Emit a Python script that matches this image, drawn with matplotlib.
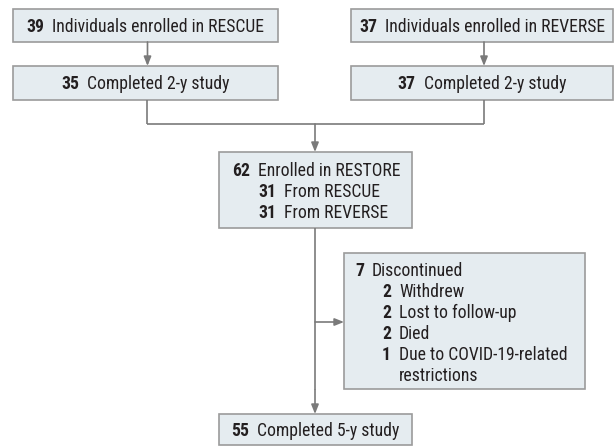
import matplotlib.pyplot as plt
from matplotlib import font_manager
from matplotlib.patches import Rectangle

# Zahlen und Texte des Flussdiagramms
top_counts = ["39", "37"]
top_labels = ["Individuals enrolled in RESCUE", "Individuals enrolled in REVERSE"]
done2_counts = ["35", "37"]
done2_labels = ["Completed 2-y study", "Completed 2-y study"]
restore_count, restore_label = "62", "Enrolled in RESTORE"
restore_sub_counts = ["31", "31"]
restore_sub_labels = ["From RESCUE", "From REVERSE"]
disc_count, disc_label = "7", "Discontinued"
disc_sub_counts = ["2", "2", "2", "1", ""]
disc_sub_labels = ["Withdrew", "Lost to follow-up", "Died",
                   "Due to COVID-19-related", "restrictions"]
final_count, final_label = "55", "Completed 5-y study"

# schmale Schrift suchen
have = {f.name for f in font_manager.fontManager.ttflist}
wanted = ["Roboto Condensed", "Fira Sans Condensed", "PT Sans Narrow",
          "Archivo Narrow", "Open Sans Condensed", "Asap Condensed",
          "Encode Sans Condensed", "Liberation Sans Narrow"]
FONT = [f for f in wanted if f in have][:1] + ["DejaVu Sans"]

FILL = "#e5ecf0"
EDGE = "#9b9b9b"
LINE = "#7a7a7a"
TXT = "#231f20"

fig = plt.figure(figsize=(6.14, 4.46), dpi=100)
ax = fig.add_axes([0, 0, 1, 1])
ax.set_xlim(0, 614)
ax.set_ylim(446, 0)
ax.axis("off")
renderer = fig.canvas.get_renderer()

# Schriftgröße an die Breite im Original anpassen
probe = ax.text(0, 0, top_labels[0], fontsize=10, family=FONT)
FS = 10 * 211 / probe.get_window_extent(renderer).width
probe.remove()


def box(x0, y0, x1, y1):
    ax.add_patch(Rectangle((x0, y0), x1 - x0, y1 - y0, facecolor=FILL,
                           edgecolor=EDGE, linewidth=1.2))


def pair(x, y, num, label, gap=8):
    t = ax.text(x, y, num, fontsize=FS, fontweight="bold", family=FONT,
                color=TXT, va="baseline", ha="left")
    ax.annotate(label, xy=(1, 0), xycoords=t, xytext=(gap, 0),
                textcoords="offset pixels", fontsize=FS, family=FONT,
                color=TXT, va="bottom", ha="left")
    return t


def width(s, bold=False):
    t = ax.text(0, 0, s, fontsize=FS, family=FONT,
                fontweight="bold" if bold else "normal")
    w = t.get_window_extent(renderer).width
    t.remove()
    return w


def centered(x0, x1, y, num, label, gap=8):
    w = width(num, True) + gap + width(label)
    pair((x0 + x1) / 2 - w / 2, y, num, label, gap)


def line(xs, ys):
    ax.plot(xs, ys, color=LINE, lw=1.2, solid_capstyle="butt")


def arrow(x0, y0, x1, y1):
    ax.annotate("", xy=(x1, y1), xytext=(x0, y0),
                arrowprops=dict(arrowstyle="-|>,head_length=0.55,head_width=0.22",
                                color=LINE, lw=1.2, shrinkA=0, shrinkB=0))


# obere Kästen
cols = [(13, 278), (351, 613)]
for (x0, x1), n, l in zip(cols, top_counts, top_labels):
    box(x0, 9, x1, 42)
    centered(x0, x1, 32, n, l)
for (x0, x1), n, l in zip(cols, done2_counts, done2_labels):
    box(x0, 66, x1, 100)
    centered(x0, x1, 89, n, l)
    cx = (x0 + x1) / 2 + 2
    arrow(cx, 42, cx, 66)

line([147, 147], [100, 124])
line([484, 484], [100, 124])
line([147, 484], [124, 124])
arrow(315, 124, 315, 152)

# RESTORE
box(219, 152, 412, 228)
pair(232, 176, restore_count, restore_label)
for i, (n, l) in enumerate(zip(restore_sub_counts, restore_sub_labels)):
    pair(258, 197 + 20.5 * i, n, l)

# Abbrüche
line([315, 315], [228, 322])
arrow(315, 322, 344, 322)
box(344, 253, 585, 389)
pair(355, 276, disc_count, disc_label)
for i, (n, l) in enumerate(zip(disc_sub_counts, disc_sub_labels)):
    y = 297 + 21 * i
    ax.text(382, y, n, fontsize=FS, fontweight="bold", family=FONT,
            color=TXT, va="baseline", ha="left")
    ax.text(399, y, l, fontsize=FS, family=FONT, color=TXT,
            va="baseline", ha="left")

# Endpunkt
line([315, 315], [322, 390])
arrow(315, 390, 315, 414)
box(219, 414, 412, 445)
centered(219, 412, 436, final_count, final_label)

fig.savefig("out.png", dpi=100)
